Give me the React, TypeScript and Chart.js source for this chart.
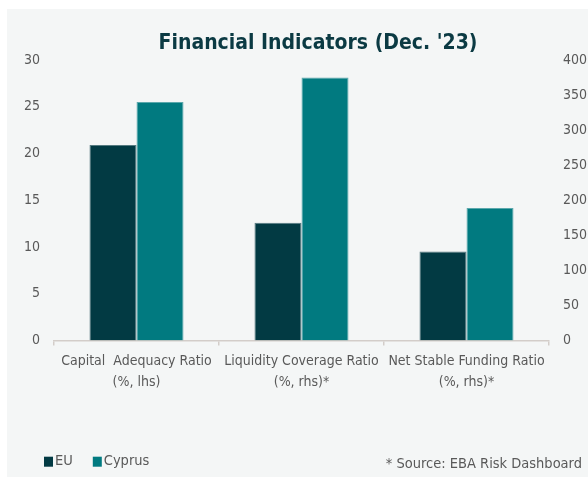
import React, { useEffect, useRef } from "react";
import { Chart, registerables } from "chart.js";

Chart.register(...registerables);

const categories: string[][] = [
  ["Capital  Adequacy Ratio", "(%, lhs)"],
  ["Liquidity Coverage Ratio", "(%, rhs)*"],
  ["Net Stable Funding Ratio", "(%, rhs)*"],
];
const seriesNames = ["EU", "Cyprus"];
const euValues = [20.9, 168, 127];
const cyprusValues = [25.5, 375, 189];
const valueAxis = ["lhs", "rhs", "rhs"];
const lhsTicks = [0, 5, 10, 15, 20, 25, 30];
const rhsTicks = [0, 50, 100, 150, 200, 250, 300, 350, 400];
const titleText = "Financial Indicators (Dec. '23)";
const sourceText = "* Source: EBA Risk Dashboard";

const FONT = "'DejaVu Sans Condensed', 'DejaVu Sans', sans-serif";
const EU_COLOR = "#023a43";
const CY_COLOR = "#017a80";
const TEXT_COLOR = "#595959";
const TITLE_COLOR = "#0b3a43";
const AXIS_COLOR = "#d3cdc9";

const W = 581;
const H = 468;

const onAxis = (values: number[], side: string) =>
  values.map((v, i) => (valueAxis[i] === side ? v : null));

const notesPlugin = {
  id: "notes",
  afterDraw(chart: any) {
    const ctx = chart.ctx;
    ctx.save();
    // title
    ctx.font = `bold 21px ${FONT}`;
    ctx.fillStyle = TITLE_COLOR;
    ctx.textAlign = "center";
    ctx.textBaseline = "middle";
    ctx.fillText(titleText, 311, 35);
    // legend
    ctx.font = `14.5px ${FONT}`;
    ctx.textAlign = "left";
    let x = 37;
    const y = 452.7;
    chart.data.datasets.slice(0, 2).forEach((ds: any) => {
      ctx.fillStyle = ds.backgroundColor;
      ctx.fillRect(x, y - 5, 9, 10);
      ctx.fillStyle = TEXT_COLOR;
      ctx.fillText(ds.label, x + 11, y);
      x += 11 + ctx.measureText(ds.label).width + 20;
    });
    // source note
    ctx.textAlign = "right";
    ctx.fillStyle = TEXT_COLOR;
    ctx.fillText(sourceText, 575, 455);
    ctx.restore();
  },
};

export default function App() {
  const ref = useRef<HTMLCanvasElement | null>(null);

  useEffect(() => {
    if (!ref.current) return;
    const tickFont = { family: FONT, size: 14 };
    const chart = new Chart(ref.current, {
      type: "bar",
      data: {
        labels: categories,
        datasets: [
          {
            label: seriesNames[0],
            data: onAxis(euValues, "lhs"),
            yAxisID: "y",
            backgroundColor: EU_COLOR,
            borderColor: "#557a80",
            borderWidth: 1,
          },
          {
            label: seriesNames[1],
            data: onAxis(cyprusValues, "lhs"),
            yAxisID: "y",
            backgroundColor: CY_COLOR,
            borderColor: "#5ba8ac",
            borderWidth: 1,
          },
          {
            label: seriesNames[0],
            data: onAxis(euValues, "rhs"),
            yAxisID: "y1",
            backgroundColor: EU_COLOR,
            borderColor: "#557a80",
            borderWidth: 1,
          },
          {
            label: seriesNames[1],
            data: onAxis(cyprusValues, "rhs"),
            yAxisID: "y1",
            backgroundColor: CY_COLOR,
            borderColor: "#5ba8ac",
            borderWidth: 1,
          },
        ] as any,
      },
      options: {
        responsive: false,
        animation: false,
        skipNull: true,
        categoryPercentage: 0.57,
        barPercentage: 1,
        layout: { padding: { left: 0, right: 0, top: 51, bottom: 0 } },
        plugins: {
          legend: { display: false },
          tooltip: { enabled: false },
          title: { display: false, text: titleText },
        },
        scales: {
          x: {
            grid: {
              offset: true,
              drawOnChartArea: false,
              drawTicks: true,
              tickLength: 5,
              color: AXIS_COLOR,
              lineWidth: 1.5,
            },
            border: { display: true, color: AXIS_COLOR, width: 1.5 },
            ticks: {
              color: TEXT_COLOR,
              font: { family: FONT, size: 14, lineHeight: 1.5 },
              padding: 5,
              maxRotation: 0,
              autoSkip: false,
            },
            afterFit(s: any) {
              s.height = 136.5;
            },
          },
          y: {
            position: "left",
            min: lhsTicks[0],
            max: lhsTicks[lhsTicks.length - 1],
            grid: { display: false, drawTicks: false },
            border: { display: false },
            ticks: { stepSize: lhsTicks[1] - lhsTicks[0], color: TEXT_COLOR, font: tickFont, padding: 14 },
            afterFit(s: any) {
              s.width = 47;
            },
          },
          y1: {
            position: "right",
            min: rhsTicks[0],
            max: rhsTicks[rhsTicks.length - 1],
            grid: { display: false, drawTicks: false },
            border: { display: false },
            ticks: { stepSize: rhsTicks[1] - rhsTicks[0], color: TEXT_COLOR, font: tickFont, padding: 14 },
            afterFit(s: any) {
              s.width = 39;
            },
          },
        },
      } as any,
      plugins: [notesPlugin],
    });
    return () => chart.destroy();
  }, []);

  return (
    <div
      style={{
        position: "absolute",
        left: 7,
        top: 9,
        width: W,
        height: H,
        background: "#f4f6f6",
      }}
    >
      <canvas ref={ref} width={W} height={H} style={{ display: "block", width: W, height: H }} />
    </div>
  );
}
